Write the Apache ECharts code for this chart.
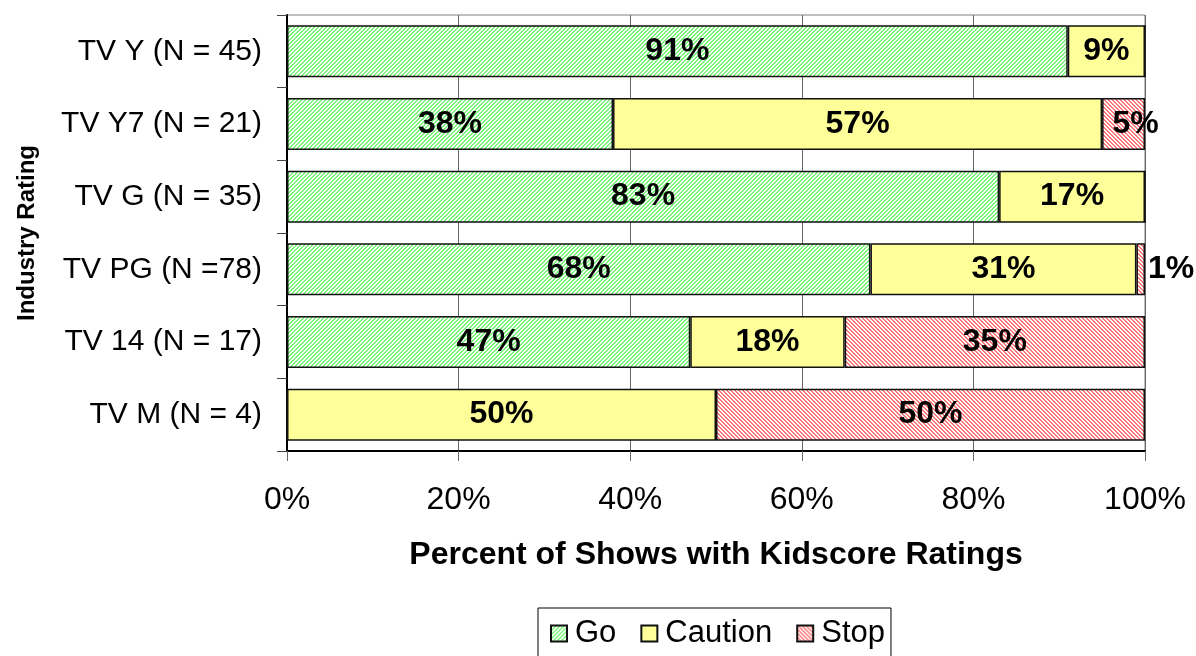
<!DOCTYPE html>
<html>
<head>
<meta charset="utf-8">
<script src="https://cdn.jsdelivr.net/npm/echarts@6/dist/echarts.min.js"></script>
<style>
  html, body { margin: 0; padding: 0; background: #fff; }
  #chart { width: 1196px; height: 656px; }
</style>
</head>
<body>
<div id="chart"></div>
<script>
// 数据
const categories = ['TV Y (N = 45)', 'TV Y7 (N = 21)', 'TV G (N = 35)', 'TV PG (N =78)', 'TV 14 (N = 17)', 'TV M (N = 4)']
const goValues = [91, 38, 83, 68, 47, 0]
const cautionValues = [9, 57, 17, 31, 18, 50]
const stopValues = [0, 5, 0, 1, 35, 50]
const xTicks = [0, 20, 40, 60, 80, 100]

const FONT = '"Liberation Sans", Arial, sans-serif'

// 斜线填充图案
const hatch = (color, dir) => {
  const c = document.createElement('canvas')
  c.width = 4
  c.height = 4
  const ctx = c.getContext('2d')
  ctx.fillStyle = '#ffffff'
  ctx.fillRect(0, 0, 4, 4)
  ctx.fillStyle = color
  for (let x = 0; x < 4; x++) {
    for (let y = 0; y < 4; y++) {
      const k = dir > 0 ? (x + y) % 4 : ((x - y) % 4 + 4) % 4
      if (k < 2) ctx.fillRect(x, y, 1, 1)
    }
  }
  return { image: c, repeat: 'repeat' }
}

const labelStyle = {
  show: true,
  position: 'inside',
  color: '#000',
  fontFamily: FONT,
  fontWeight: 'bold',
  fontSize: 32,
  overflow: 'none',
  formatter: (p) => (p.value ? p.value + '%' : '')
}

// 很窄的段: 1% 放外面, 5% 稍微右移
const toItems = (arr) => arr.map((v) => {
  if (v > 0 && v < 3) return { value: v, label: { position: 'right', distance: 3 } }
  if (v >= 3 && v < 8) return { value: v, label: { offset: [12, 0] } }
  return v
})

const makeSeries = (name, values, color) => ({
  name,
  type: 'bar',
  stack: 'total',
  barWidth: 52,
  data: toItems(values),
  itemStyle: { color, borderColor: '#111', borderWidth: 1.5 },
  label: labelStyle,
  emphasis: { disabled: true }
})

const myChart = echarts.init(document.getElementById('chart'))
myChart.setOption({
  animation: false,
  grid: { left: 287, right: 51, top: 15, bottom: 205, show: true, borderColor: '#808080', borderWidth: 1 },
  legend: {
    left: 538,
    top: 608,
    data: ['Go', 'Caution', 'Stop'],
    icon: 'rect',
    itemWidth: 16,
    itemHeight: 16,
    itemGap: 24,
    padding: [10, 6, 12, 12],
    borderColor: '#000',
    borderWidth: 1,
    textStyle: { fontFamily: FONT, fontSize: 31, color: '#000', padding: [0, 0, 0, 3] }
  },
  xAxis: {
    type: 'value',
    min: xTicks[0],
    max: xTicks[xTicks.length - 1],
    interval: 20,
    name: 'Percent of Shows with Kidscore Ratings',
    nameLocation: 'middle',
    nameGap: 88,
    nameTextStyle: { fontFamily: FONT, fontWeight: 'bold', fontSize: 32, color: '#000' },
    axisLine: { show: true, lineStyle: { color: '#000', width: 2 } },
    axisTick: { show: true, length: 10, lineStyle: { color: '#666' } },
    axisLabel: { formatter: '{value}%', fontFamily: FONT, fontSize: 32, color: '#000', margin: 33 },
    splitLine: { show: true, lineStyle: { color: '#666', width: 1 } }
  },
  yAxis: {
    type: 'category',
    inverse: true,
    data: categories,
    name: 'Industry Rating',
    nameLocation: 'middle',
    nameGap: 248,
    nameRotate: 90,
    nameTextStyle: { fontFamily: FONT, fontWeight: 'bold', fontSize: 24, color: '#000' },
    axisLine: { show: true, lineStyle: { color: '#000', width: 2 } },
    axisTick: { show: true, length: 10, lineStyle: { color: '#444' } },
    axisLabel: { fontFamily: FONT, fontSize: 30, color: '#000', margin: 25 },
    splitLine: { show: false }
  },
  series: [
    makeSeries('Go', goValues, hatch('#7af57a', 1)),
    makeSeries('Caution', cautionValues, '#ffff99'),
    makeSeries('Stop', stopValues, hatch('#ff7878', -1))
  ]
})
</script>
</body>
</html>
